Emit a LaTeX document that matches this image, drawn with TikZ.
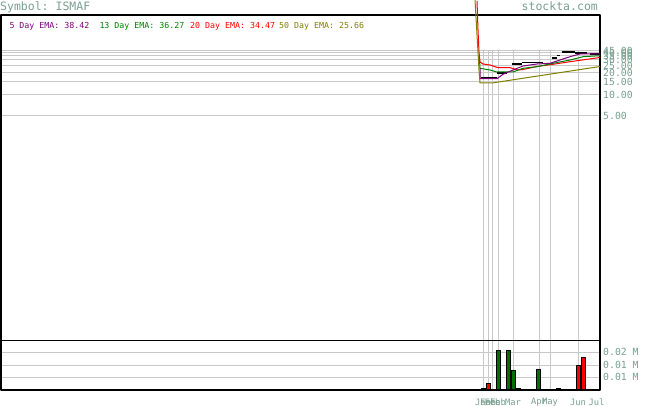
\documentclass[tikz,border=0pt]{standalone}
\usepackage{fontspec}
\setmonofont{DejaVu Sans Mono}
\definecolor{labelgray}{RGB}{120,160,144}
\definecolor{gridgray}{RGB}{200,200,200}
\definecolor{emapurple}{RGB}{128,0,128}
\definecolor{emagreen}{RGB}{0,128,0}
\definecolor{emared}{RGB}{255,0,0}
\definecolor{emaolive}{RGB}{128,128,0}
\definecolor{volgreen}{RGB}{0,112,0}
\newcommand \mypricegrid[3]
{
\draw[grid] (1,#1)--(600,#1);
\node[axislabel] (#2) at (603,#1) {#3};
}
\newcommand \myvolbar[4]
{
\draw[volbar,fill=#4] (#1,390)--(#1,#3)--(#2,#3)--(#2,390);
}
\newcommand \mymonth[3]
{
\node[monthlabel] (#2) at (#1,402) {#3};
}

\begin{document}
\begin{tikzpicture}[x=1pt,y=-1pt, line join=round,
  grid/.style={gridgray,line width=1pt},
  frame/.style={black,line width=1.2pt},
  volbar/.style={black,line width=0.9pt},
  close/.style={black,line width=1.6pt},
  ema/.style={line width=1pt},
  axislabel/.style={anchor=west,inner sep=0pt,text=labelgray,font=\ttfamily\fontsize{9.8}{10}\selectfont},
  monthlabel/.style={inner sep=0pt,text=labelgray,font=\ttfamily\fontsize{8.8}{9}\selectfont},
  legend/.style={anchor=base west,inner sep=0pt,font=\ttfamily\fontsize{8.3}{9}\selectfont}]
\useasboundingbox (0,0) rectangle (655,406);
% header
\node[anchor=base west,inner sep=0pt,text=labelgray,font=\ttfamily\fontsize{11.5}{12}\selectfont] (sym) at (0,10.3) {Symbol: ISMAF};
\node[anchor=base west,inner sep=0pt,text=labelgray,font=\ttfamily\fontsize{11.5}{12}\selectfont] (site) at (521.5,10.5) {stockta.com};
\node[legend,text=emapurple] (ema5)  at (9.3,28.3)  {5 Day EMA: 38.42};
\node[legend,text=emagreen]  (ema13) at (99.3,28.3) {13 Day EMA: 36.27};
\node[legend,text=emared]    (ema20) at (190,28.3)  {20 Day EMA: 34.47};
\node[legend,text=emaolive]  (ema50) at (279,28.3)  {50 Day EMA: 25.66};
% price grid
\mypricegrid{50.5}{p45}{45.00}
\mypricegrid{53}{p40}{40.00}
\mypricegrid{56}{p35}{35.00}
\mypricegrid{60}{p30}{30.00}
\mypricegrid{65.5}{p25}{25.00}
\mypricegrid{73}{p20}{20.00}
\mypricegrid{82}{p15}{15.00}
\mypricegrid{94.5}{p10}{10.00}
\mypricegrid{115.5}{p5}{5.00}
% volume grid
\draw[grid] (1,352.3)--(600,352.3) (1,365)--(600,365) (1,377.3)--(600,377.3);
\node[axislabel] (v2) at (603,352.3) {0.02 M};
\node[axislabel] (v1) at (603,365)   {0.01 M};
\node[axislabel] (v0) at (603,377.3) {0.01 M};
\foreach \xg in {483,488,492.5,498,513,539,550,578}
{
\draw[grid] (\xg,50.5)--(\xg,340) (\xg,341)--(\xg,390);
}
% months
\mymonth{483}{jan}{Jan}
\mymonth{488}{feba}{Feb}
\mymonth{492.5}{febb}{Feb}
\mymonth{498}{febc}{Feb}
\mymonth{513}{mar}{Mar}
\mymonth{539}{apr}{Apr}
\mymonth{550}{may}{May}
\mymonth{578}{jun}{Jun}
\mymonth{596.5}{jul}{Jul}
% volume bars
\myvolbar{481}{486}{388.5}{volgreen}
\myvolbar{486.7}{490.7}{383.3}{emared}
\myvolbar{496.7}{500.7}{350}{volgreen}
\myvolbar{506}{510}{350}{volgreen}
\myvolbar{511}{515}{370}{volgreen}
\myvolbar{516.7}{520.7}{388.3}{volgreen}
\myvolbar{536.7}{540.7}{369.3}{volgreen}
\myvolbar{556.7}{560.7}{388.3}{volgreen}
\myvolbar{576}{580}{365}{emared}
\myvolbar{581}{585.3}{357.3}{emared}
\draw[frame] (481,389.5)--(600,389.5);
% frame
\draw[frame] (1,15)--(600,15)--(600,390)--(1,390)--cycle;
\draw[frame] (1,340.7)--(600,340.7);
% closes
\draw[close] (481,77.5)--(496.7,77.5) (496.7,72.8)--(507,72.8) (511.7,64)--(521.7,64)
  (521.7,62.7)--(543.3,62.7) (551.7,58.3)--(556.7,58.3) (556.7,55.7)--(560,55.7)
  (561.7,52.3)--(575,52.3) (575,53.3)--(586.7,53.3) (590,54)--(600,54);
% moving averages
\draw[ema,emared] (477,1)--(478,30)--(479,52)--(480,62)--(483,64)--(490,65)--(498,67.7)
  (498,67.7)--(510,67.7)--(518,70)--(523,69.5)--(537,66.5)--(553,64.3)--(570,61.7)--(587,59.3)--(600,57.5);
\draw[ema,emagreen] (479.5,60)--(480,68.3)--(490,70)--(496.7,72)--(513,72)--(523,68.3)
  --(537,66.7)--(553,63.3)--(570,60)--(583,56.7)--(600,55.7);
\draw[ema,emapurple] (480,68)--(480,78.7)--(497,78.7)--(503,74.3)--(513,70)--(523,66)
  --(537,64)--(550,63.3)--(560,60)--(570,56.7)--(580,54)--(600,54);
\draw[ema,emaolive] (475,0)--(479,70)--(480,83)--(492,83)--(600,66.5);
\end{tikzpicture}
\end{document}
